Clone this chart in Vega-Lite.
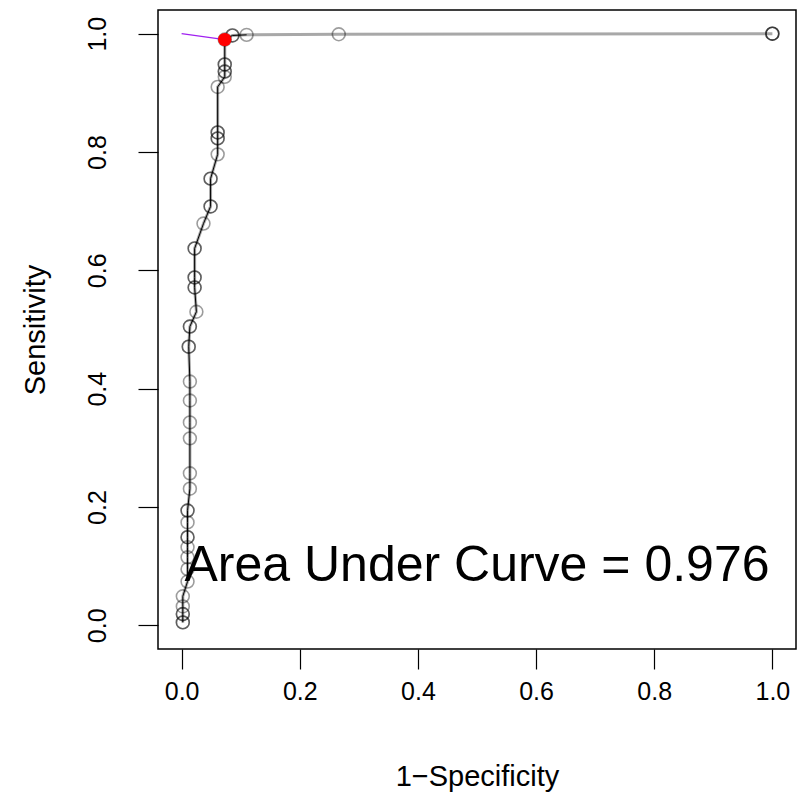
{
  "$schema": "https://vega.github.io/schema/vega-lite/v6.json",
  "width": 638,
  "height": 639,
  "autosize": {"type": "none"},
  "padding": {"left": 158, "top": 10, "right": 13, "bottom": 143},
  "background": "white",
  "config": {
    "view": {"stroke": "black", "strokeWidth": 1.5},
    "font": "Liberation Sans",
    "axis": {
      "grid": false,
      "domain": false,
      "tickColor": "black",
      "tickWidth": 1.2,
      "tickSize": 20,
      "labelFont": "Liberation Sans",
      "labelFontSize": 25,
      "labelColor": "black",
      "titleFont": "Liberation Sans",
      "titleFontSize": 29,
      "titleFontWeight": "normal",
      "titleColor": "black"
    }
  },
  "datasets": {
    "roc": [
      {"fpr": 1.0, "tpr": 1.0}, {"fpr": 1.0, "tpr": 1.0}, {"fpr": 1.0, "tpr": 1.0},
      {"fpr": 0.266, "tpr": 0.999},
      {"fpr": 0.110, "tpr": 0.998},
      {"fpr": 0.086, "tpr": 0.997}, {"fpr": 0.086, "tpr": 0.997},
      {"fpr": 0.073, "tpr": 0.990},
      {"fpr": 0.073, "tpr": 0.948}, {"fpr": 0.073, "tpr": 0.948},
      {"fpr": 0.073, "tpr": 0.936}, {"fpr": 0.073, "tpr": 0.936},
      {"fpr": 0.073, "tpr": 0.927},
      {"fpr": 0.061, "tpr": 0.910},
      {"fpr": 0.061, "tpr": 0.833}, {"fpr": 0.061, "tpr": 0.833},
      {"fpr": 0.061, "tpr": 0.823}, {"fpr": 0.061, "tpr": 0.823},
      {"fpr": 0.061, "tpr": 0.796},
      {"fpr": 0.049, "tpr": 0.755}, {"fpr": 0.049, "tpr": 0.755},
      {"fpr": 0.049, "tpr": 0.708}, {"fpr": 0.049, "tpr": 0.708},
      {"fpr": 0.037, "tpr": 0.679},
      {"fpr": 0.022, "tpr": 0.637}, {"fpr": 0.022, "tpr": 0.637},
      {"fpr": 0.022, "tpr": 0.588}, {"fpr": 0.022, "tpr": 0.588},
      {"fpr": 0.022, "tpr": 0.571}, {"fpr": 0.022, "tpr": 0.571},
      {"fpr": 0.025, "tpr": 0.530},
      {"fpr": 0.014, "tpr": 0.505}, {"fpr": 0.014, "tpr": 0.505},
      {"fpr": 0.012, "tpr": 0.471}, {"fpr": 0.012, "tpr": 0.471},
      {"fpr": 0.014, "tpr": 0.412},
      {"fpr": 0.014, "tpr": 0.380},
      {"fpr": 0.014, "tpr": 0.343},
      {"fpr": 0.014, "tpr": 0.316},
      {"fpr": 0.014, "tpr": 0.257},
      {"fpr": 0.014, "tpr": 0.231},
      {"fpr": 0.010, "tpr": 0.194}, {"fpr": 0.010, "tpr": 0.194},
      {"fpr": 0.010, "tpr": 0.174},
      {"fpr": 0.010, "tpr": 0.149}, {"fpr": 0.010, "tpr": 0.149},
      {"fpr": 0.010, "tpr": 0.132},
      {"fpr": 0.010, "tpr": 0.115},
      {"fpr": 0.010, "tpr": 0.095},
      {"fpr": 0.010, "tpr": 0.074},
      {"fpr": 0.002, "tpr": 0.049},
      {"fpr": 0.002, "tpr": 0.032},
      {"fpr": 0.002, "tpr": 0.019}, {"fpr": 0.002, "tpr": 0.019},
      {"fpr": 0.002, "tpr": 0.005}, {"fpr": 0.002, "tpr": 0.005}
    ],
    "best": [{"fpr": 0.073, "tpr": 0.990}],
    "toBest": [{"fpr": 0.0, "tpr": 1.0}, {"fpr": 0.073, "tpr": 0.990}],
    "auc": [{"fpr": 0.5, "tpr": 0.1, "label": "Area Under Curve = 0.976"}]
  },
  "encoding": {
    "x": {
      "field": "fpr", "type": "quantitative",
      "scale": {"domain": [-0.04, 1.04], "nice": false, "zero": false},
      "axis": {
        "values": [0, 0.2, 0.4, 0.6, 0.8, 1.0], "format": ".1f",
        "title": "1\u2212Specificity",
        "labelPadding": 10,
        "titleY": 127, "titleBaseline": "middle"
      }
    },
    "y": {
      "field": "tpr", "type": "quantitative",
      "scale": {"domain": [-0.04, 1.04], "nice": false, "zero": false},
      "axis": {
        "values": [0, 0.2, 0.4, 0.6, 0.8, 1.0], "format": ".1f",
        "title": "Sensitivity",
        "labelAngle": -90, "labelAlign": "center", "labelBaseline": "bottom",
        "labelPadding": 28,
        "titleX": -123, "titleAngle": -90, "titleBaseline": "middle", "titleAlign": "center"
      }
    }
  },
  "layer": [
    {
      "data": {"name": "roc"},
      "mark": {"type": "line", "color": "#a8a8a8", "strokeWidth": 3},
      "encoding": {"order": {"field": "tpr", "type": "quantitative"}}
    },
    {
      "data": {"name": "roc"},
      "transform": [{"filter": "datum.fpr < 0.2"}],
      "mark": {"type": "line", "color": "black", "strokeWidth": 1},
      "encoding": {"order": {"field": "tpr", "type": "quantitative"}}
    },
    {
      "data": {"name": "roc"},
      "mark": {"type": "point", "shape": "circle", "filled": false, "stroke": "black", "strokeWidth": 1.6, "strokeOpacity": 0.55, "size": 165}
    },
    {
      "data": {"name": "toBest"},
      "mark": {"type": "line", "color": "#a020f0", "strokeWidth": 1.3},
      "encoding": {}
    },
    {
      "data": {"name": "best"},
      "mark": {"type": "point", "shape": "circle", "filled": true, "color": "red", "opacity": 1, "size": 180}
    },
    {
      "data": {"name": "auc"},
      "mark": {"type": "text", "fontSize": 50, "font": "Liberation Sans", "color": "black", "align": "center", "baseline": "middle"},
      "encoding": {"text": {"field": "label"}}
    }
  ]
}
